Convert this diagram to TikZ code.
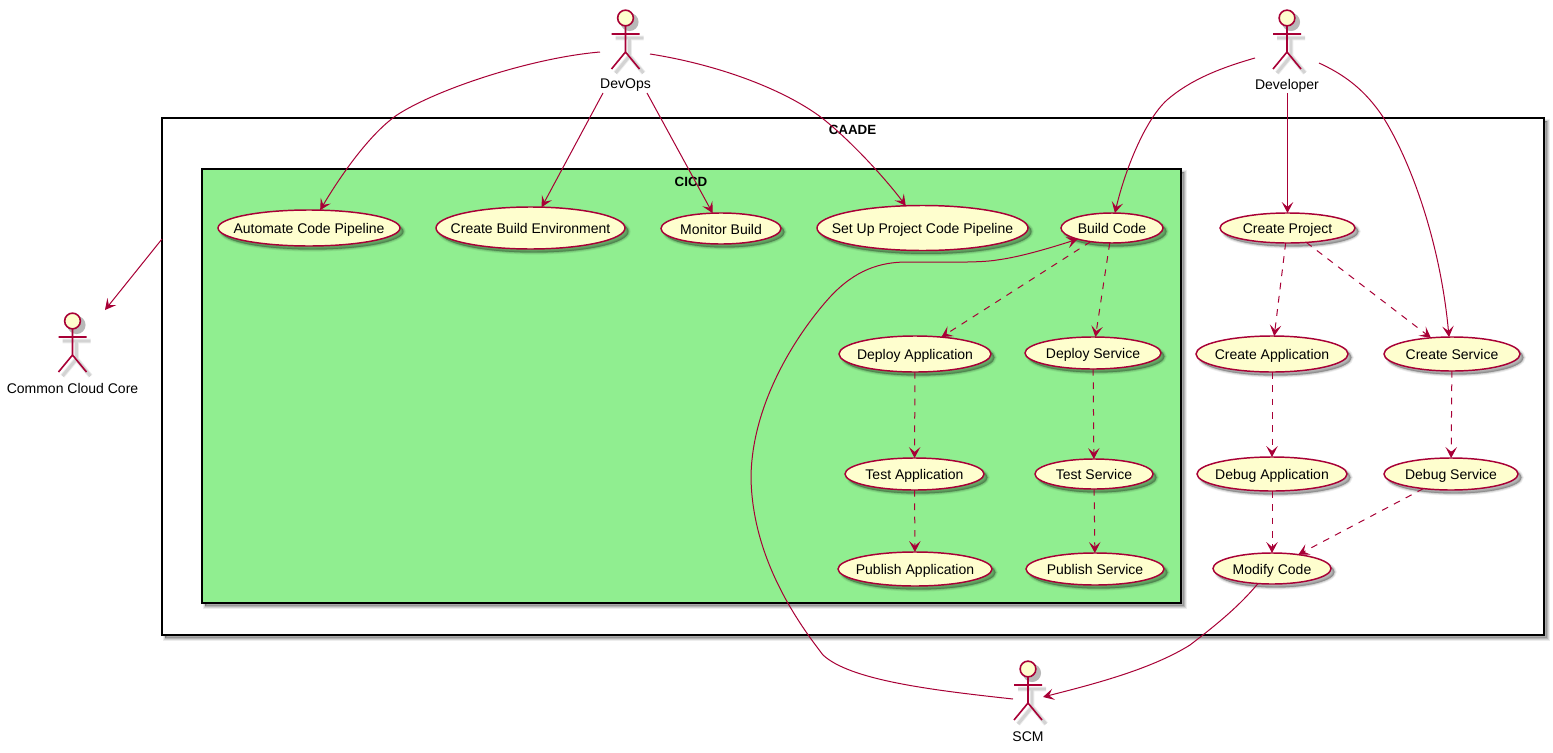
\documentclass[tikz,border=0pt]{standalone}
\usepackage{fontspec}
\setmainfont{Liberation Sans}
\usetikzlibrary{arrows.meta,shapes.geometric}
\definecolor{umlred}{HTML}{A80036}
\definecolor{umlfill}{HTML}{FEFECE}
\definecolor{cicdgreen}{HTML}{90EE90}
\tikzset{
  softshadow/.style={
    preaction={draw=black,fill=black,opacity=.07,line width=3.2pt,transform canvas={shift={(2.6pt,-2.6pt)}}},
    preaction={draw=black,fill=black,opacity=.10,line width=1.8pt,transform canvas={shift={(2.6pt,-2.6pt)}}},
    preaction={draw=black,fill=black,opacity=.14,line width=.4pt,transform canvas={shift={(2.6pt,-2.6pt)}}}},
  usecase/.style={ellipse,draw=umlred,fill=umlfill,line width=1.1pt,inner sep=0pt,outer sep=0pt,softshadow},
  frame/.style={rectangle,draw=black,line width=1.1pt,inner sep=0pt,outer sep=0pt,softshadow},
  frametitle/.style={font=\fontsize{10}{12}\selectfont\bfseries,inner sep=0pt},
  actorlabel/.style={font=\fontsize{10.5}{12}\selectfont,inner sep=0pt},
  actorhead/.style={circle,draw=umlred,fill=umlfill,line width=1.2pt,minimum size=11.8pt,inner sep=0pt,outer sep=0pt},
  actorline/.style={draw=umlred,line width=1.2pt},
  link/.style={draw=umlred,line width=.75pt,-{Stealth[length=8.2pt,width=8.6pt,inset=3.6pt]}},
  dep/.style={link,dash pattern=on 5pt off 5pt}
}
\newcommand{\umlcase}[6]{\node[usecase,minimum width=#4*0.75pt,minimum height=#5*0.75pt] (#1) at (#2,#3)
  {\smash{\makebox[0pt][c]{\raisebox{-4.3pt}{\fontsize{10.5}{12}\selectfont #6}}}};}
\newcommand{\umlactor}[4]{%
  \begin{scope}[shift={(#2,#3)}]
    \begin{scope}[transform canvas={shift={(3pt,-3pt)}}]
      \fill[black,opacity=.28] (0,0) circle (6.8pt);
      \draw[black,opacity=.08,line width=3.6pt] (-14,16) -- (14,16) (0,16) -- (0,34) -- (-14,51) (0,34) -- (14,51);
      \draw[black,opacity=.10,line width=2.2pt] (-14,16) -- (14,16) (0,16) -- (0,34) -- (-14,51) (0,34) -- (14,51);
    \end{scope}
    \draw[actorline] (-14,16) -- (14,16) (0,8) -- (0,34) -- (-14,51) (0,34) -- (14,51);
    \node[actorhead] (#1-head) at (0,0) {};
    \node[actorlabel] (#1) at (0,67.5) {#4};
  \end{scope}}
\begin{document}
\begin{tikzpicture}[x=0.75pt,y=-0.75pt]
\useasboundingbox[fill=white] (0,0) rectangle (1553,753);
% frames
\node[frame,fill=white,minimum width=1382*0.75pt,minimum height=517*0.75pt] (caade) at (853,376.5) {};
\node[frametitle] (caadetitle) at (852.5,129.5) {CAADE};
\node[frame,fill=cicdgreen,minimum width=979*0.75pt,minimum height=434*0.75pt] (cicd) at (691.5,386) {};
\node[frametitle] (cicdtitle) at (691,181.5) {CICD};
% use cases
\umlcase{autopipe}{309}{228}{182}{36}{Automate Code Pipeline}
\umlcase{buildenv}{530.5}{228}{189}{42}{Create Build Environment}
\umlcase{monitor}{721}{228.5}{120}{31}{Monitor Build}
\umlcase{setup}{922.5}{228}{211}{45}{Set Up Project Code Pipeline}
\umlcase{build}{1112}{228}{102}{30}{Build Code}
\umlcase{deployapp}{915}{354}{152}{36}{Deploy Application}
\umlcase{deploysvc}{1093}{353}{136}{32}{Deploy Service}
\umlcase{testapp}{914.5}{474}{139}{32}{Test Application}
\umlcase{testsvc}{1094}{474}{118}{30}{Test Service}
\umlcase{pubapp}{915}{569}{154}{34}{Publish Application}
\umlcase{pubsvc}{1095}{569}{138}{32}{Publish Service}
\umlcase{project}{1287.5}{228}{135}{30}{Create Project}
\umlcase{createapp}{1272}{354}{152}{36}{Create Application}
\umlcase{createsvc}{1452}{354}{136}{34}{Create Service}
\umlcase{debugapp}{1272}{474}{150}{34}{Debug Application}
\umlcase{debugsvc}{1451}{474}{134}{32}{Debug Service}
\umlcase{modify}{1272}{568.5}{118}{31}{Modify Code}
% actors
\umlactor{devops}{625.5}{18}{DevOps}
\umlactor{developer}{1287}{18}{Developer}
\umlactor{ccc}{72.5}{321}{Common Cloud Core}
\umlactor{scm}{1028}{669}{SCM}
% free connector ends
\coordinate (devopsL) at (600,52);
\coordinate (devopsR) at (650,54);
\coordinate (devopsBL) at (603,93);
\coordinate (devopsBR) at (647,93);
\coordinate (devL) at (1255,58);
\coordinate (devR) at (1319,63);
\coordinate (devB) at (1287.5,93);
\coordinate (caadeout) at (162,239);
\coordinate (cccin) at (105,310);
\coordinate (scmL) at (1013,699);
\coordinate (scmR) at (1043,697);
% connectors
\draw[link] (devopsL) .. controls (530,58) and (435,90) .. (397,115) .. controls (368,135) and (338,180) .. (autopipe.58);
\draw[link] (devopsBL) -- (buildenv);
\draw[link] (devopsBR) -- (monitor);
\draw[link] (devopsR) .. controls (720,65) and (785,90) .. (822,118) .. controls (850,140) and (885,178) .. (setup.127);
\draw[link] (devL) .. controls (1220,68) and (1190,80) .. (1167,100) .. controls (1145,120) and (1125,170) .. (build.79);
\draw[link] (devB) -- (project);
\draw[link] (devR) .. controls (1345,75) and (1365,90) .. (1383,117) .. controls (1410,160) and (1440,240) .. (createsvc.100);
\draw[link] (caadeout) -- (cccin);
\draw[link] (scmL) .. controls (930,690) and (850,680) .. (823,655) .. controls (800,625) and (752,560) .. (751,477) .. controls (752,400) and (800,330) .. (830,297) .. controls (855,270) and (880,262) .. (907,262) .. controls (940,262) and (980,263) .. (997,260) .. controls (1020,257) and (1050,248) .. (build.198);
\draw[link] (modify.227) .. controls (1240,605) and (1220,622) .. (1190,645) .. controls (1150,670) and (1090,685) .. (scmR);
\draw[dep] (build) -- (deployapp);
\draw[dep] (build) -- (deploysvc);
\draw[dep] (deployapp) -- (testapp);
\draw[dep] (deploysvc) -- (testsvc);
\draw[dep] (testapp) -- (pubapp);
\draw[dep] (testsvc) -- (pubsvc);
\draw[dep] (project) -- (createapp);
\draw[dep] (project) -- (createsvc);
\draw[dep] (createapp) -- (debugapp);
\draw[dep] (createsvc) -- (debugsvc);
\draw[dep] (debugapp) -- (modify);
\draw[dep] (debugsvc) -- (modify);
\end{tikzpicture}
\end{document}
